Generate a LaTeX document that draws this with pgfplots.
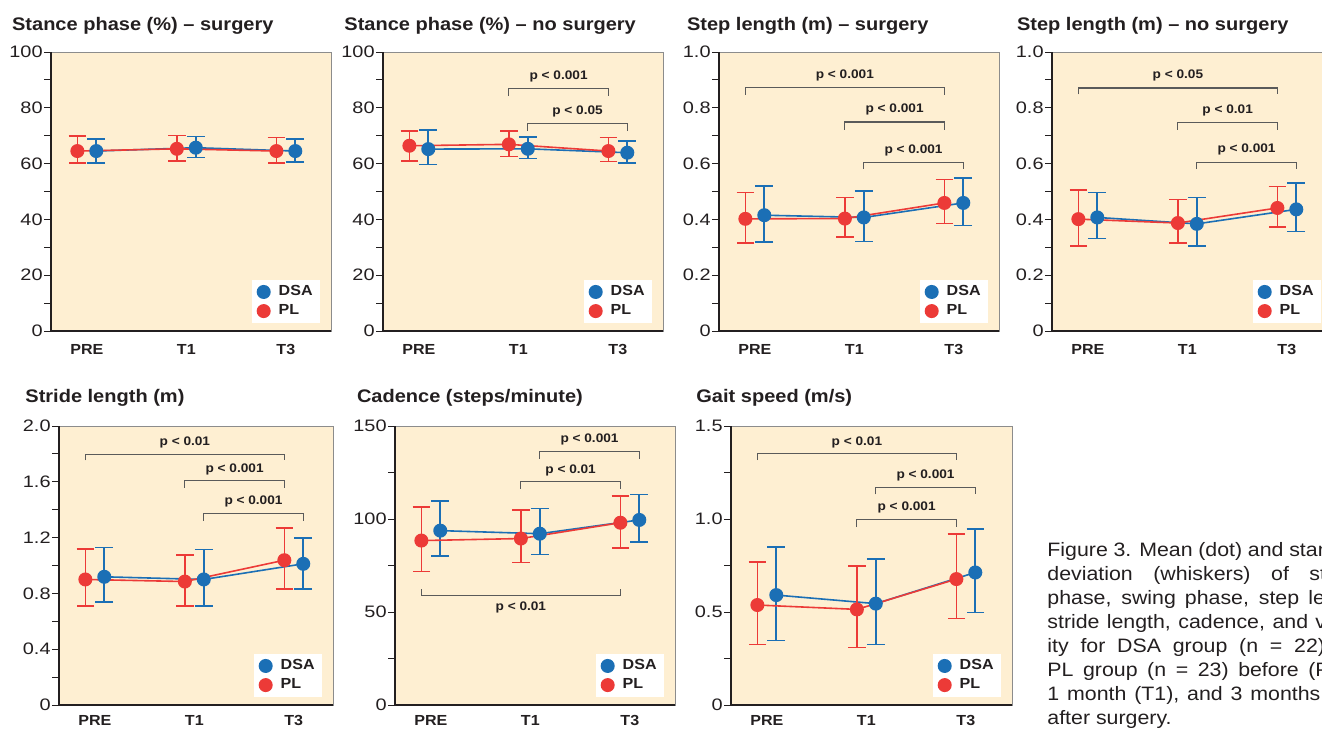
\documentclass[border=0pt]{standalone}
\usepackage{fontspec}
\setmainfont{Liberation Sans}[FakeStretch=1.1]
\newfontfamily\numfont{Liberation Sans}[FakeStretch=1.2]
\usepackage{pgfplots}
\pgfplotsset{compat=1.18}

\definecolor{bg}{HTML}{FEEFD2}
\definecolor{dsa}{HTML}{1B6FB5}
\definecolor{pl}{HTML}{EC3A37}
\definecolor{brk}{HTML}{5A5A5A}
\definecolor{txt}{HTML}{231F20}

% bracket: x1, x2, y bar, y end, x label, y label, text
\newcommand\pbr[7]{%
  \draw[brk, line width=0.55pt] (axis cs:#1,#4) -- (axis cs:#1,#3) -- (axis cs:#2,#3) -- (axis cs:#2,#4);
  \node[font=\bfseries\fontsize{6.2}{6.2}\selectfont, text=txt, inner sep=0pt] at (axis cs:#5,#6) {#7};}

\pgfplotsset{
  panel/.style={
    scale only axis, width=140pt, height=139.5pt, anchor=north west,
    xmin=-0.36, xmax=2.454, ymin=0,
    xtick={0,1,2}, xticklabels={PRE,T1,T3},
    xtick pos=bottom, ytick pos=left,
    major x tick style={draw=none},
    x tick label style={font=\bfseries\fontsize{7.3}{7.3}\selectfont, text=txt, anchor=north, inner sep=0pt, yshift=-3pt},
    y tick label style={font=\numfont\fontsize{8.3}{8.3}\selectfont, text=txt, anchor=east, inner sep=0.5pt, xshift=0pt},
    tick align=outside, major tick length=3.5pt, minor tick length=3.5pt,
    tick style={txt, line width=0.5pt},
    minor y tick num=1,
    axis line style={draw=black!45, line width=0.5pt},
    axis background/.style={fill=bg},
    clip=false,
    extra description/.code={\draw[txt, line width=0.75pt] (0,1) -- (0,0) -- (1,0);},
    legend style={at={(1,0)}, anchor=south east, xshift=-5.5pt, yshift=4pt, draw=none, fill=white,
      font=\bfseries\fontsize{7.3}{7.3}\selectfont, text=txt, row sep=1pt, inner xsep=2.5pt, inner ysep=1.5pt,
      nodes={inner sep=1pt}, /tikz/every odd column/.append style={column sep=3pt}},
    legend cell align=left,
  },
  lower/.style={x tick label style={yshift=1.5pt}},
  dsaplot/.style={dsa, line width=0.8pt, mark=*, mark size=3.1pt, mark options={draw=none, fill=dsa},
    legend image code/.code={\fill[dsa] (3.6pt,0pt) circle (3.1pt);},
    error bars/.cd, y dir=both, y explicit,
    error bar style={dsa, line width=0.8pt},
    error mark options={dsa, line width=0.8pt, mark size=4.4pt, rotate=90}},
  plplot/.style={pl, line width=0.8pt, mark=*, mark size=3.1pt, mark options={draw=none, fill=pl},
    legend image code/.code={\fill[pl] (3.6pt,0pt) circle (3.1pt);},
    error bars/.cd, y dir=both, y explicit,
    error bar style={pl, line width=0.8pt},
    error mark options={pl, line width=0.8pt, mark size=4.4pt, rotate=90}},
}

\begin{document}
\begin{tikzpicture}

% ---- Stance phase, surgery
\begin{axis}[panel, at={(25.5pt,-26pt)}, ymax=100,
  ytick={0,20,40,60,80,100}, yticklabels={0,20,40,60,80,100}]
\addplot[dsaplot] coordinates {(0.095,64.5) += (0,4.4) -= (0,4.3) (1.095,65.7) += (0,4.0) -= (0,3.5) (2.095,64.5) += (0,4.4) -= (0,4.0)};
\addplot[plplot] coordinates {(-0.095,64.5) += (0,5.4) -= (0,4.3) (0.905,65.3) += (0,4.8) -= (0,4.4) (1.905,64.5) += (0,4.9) -= (0,4.3)};
\legend{DSA,PL}
\end{axis}

% ---- Stance phase, no surgery
\begin{axis}[panel, at={(191.5pt,-26pt)}, ymax=100,
  ytick={0,20,40,60,80,100}, yticklabels={0,20,40,60,80,100}]
\addplot[dsaplot] coordinates {(0.095,65.2) += (0,6.9) -= (0,5.5) (1.095,65.3) += (0,4.3) -= (0,3.5) (2.095,63.9) += (0,4.1) -= (0,3.6)};
\addplot[plplot] coordinates {(-0.095,66.4) += (0,5.3) -= (0,5.4) (0.905,66.9) += (0,4.8) -= (0,4.3) (1.905,64.5) += (0,4.8) -= (0,3.7)};
\legend{DSA,PL}
\pbr{0.905}{1.905}{86.8}{84.2}{1.405}{91.1}{p < 0.001}
\pbr{1.095}{2.095}{74.3}{71.7}{1.595}{78.6}{p < 0.05}
\end{axis}

% ---- Step length, surgery
\begin{axis}[panel, at={(359.5pt,-26pt)}, ymax=1,
  ytick={0,0.2,0.4,0.6,0.8,1}, yticklabels={0,0.2,0.4,0.6,0.8,1.0}]
\addplot[dsaplot] coordinates {(0.095,0.415) += (0,0.104) -= (0,0.095) (1.095,0.407) += (0,0.095) -= (0,0.086) (2.095,0.459) += (0,0.090) -= (0,0.081)};
\addplot[plplot] coordinates {(-0.095,0.402) += (0,0.094) -= (0,0.087) (0.905,0.403) += (0,0.076) -= (0,0.067) (1.905,0.459) += (0,0.084) -= (0,0.074)};
\legend{DSA,PL}
\pbr{-0.095}{1.905}{0.873}{0.847}{0.905}{0.915}{p < 0.001}
\pbr{0.905}{1.905}{0.749}{0.722}{1.405}{0.794}{p < 0.001}
\pbr{1.095}{2.095}{0.604}{0.580}{1.595}{0.648}{p < 0.001}
\end{axis}

% ---- Step length, no surgery
\begin{axis}[panel, at={(526pt,-26pt)}, ymax=1,
  ytick={0,0.2,0.4,0.6,0.8,1}, yticklabels={0,0.2,0.4,0.6,0.8,1.0}]
\addplot[dsaplot] coordinates {(0.095,0.407) += (0,0.089) -= (0,0.075) (1.095,0.384) += (0,0.095) -= (0,0.080) (2.095,0.436) += (0,0.095) -= (0,0.079)};
\addplot[plplot] coordinates {(-0.095,0.401) += (0,0.104) -= (0,0.097) (0.905,0.387) += (0,0.084) -= (0,0.072) (1.905,0.441) += (0,0.077) -= (0,0.069)};
\legend{DSA,PL}
\pbr{-0.095}{1.905}{0.871}{0.848}{0.905}{0.915}{p < 0.05}
\pbr{0.905}{1.905}{0.748}{0.722}{1.405}{0.790}{p < 0.01}
\pbr{1.095}{2.095}{0.605}{0.580}{1.595}{0.649}{p < 0.001}
\end{axis}

% ---- Stride length
\begin{axis}[panel, lower, at={(29.5pt,-213pt)}, width=137pt, xmax=2.394, ymax=2,
  ytick={0,0.4,0.8,1.2,1.6,2}, yticklabels={0,0.4,0.8,1.2,1.6,2.0}]
\addplot[dsaplot] coordinates {(0.095,0.919) += (0,0.210) -= (0,0.182) (1.095,0.900) += (0,0.215) -= (0,0.191) (2.095,1.012) += (0,0.186) -= (0,0.181)};
\addplot[plplot] coordinates {(-0.095,0.900) += (0,0.217) -= (0,0.191) (0.905,0.885) += (0,0.191) -= (0,0.174) (1.905,1.038) += (0,0.229) -= (0,0.207)};
\legend{DSA,PL}
\pbr{-0.095}{1.905}{1.797}{1.754}{0.905}{1.885}{p < 0.01}
\pbr{0.905}{1.905}{1.611}{1.558}{1.405}{1.687}{p < 0.001}
\pbr{1.095}{2.095}{1.372}{1.320}{1.595}{1.456}{p < 0.001}
\end{axis}

% ---- Cadence
\begin{axis}[panel, lower, at={(197.5pt,-213pt)}, ymax=150,
  ytick={0,50,100,150}, yticklabels={0,50,100,150}]
\addplot[dsaplot] coordinates {(0.095,93.75) += (0,16.0) -= (0,13.75) (1.095,92.1) += (0,13.6) -= (0,11.2) (2.095,99.5) += (0,13.7) -= (0,11.8)};
\addplot[plplot] coordinates {(-0.095,88.4) += (0,18.2) -= (0,16.6) (0.905,89.5) += (0,15.3) -= (0,12.9) (1.905,98.0) += (0,14.3) -= (0,13.7)};
\legend{DSA,PL}
\pbr{1.095}{2.095}{136.4}{132.5}{1.595}{142.9}{p < 0.001}
\pbr{0.905}{1.905}{120.2}{116.3}{1.405}{126.3}{p < 0.01}
\pbr{-0.095}{1.905}{58.75}{62.3}{0.905}{52.5}{p < 0.01}
\end{axis}

% ---- Gait speed
\begin{axis}[panel, lower, at={(365.5pt,-213pt)}, width=140.5pt, xmax=2.464, ymax=1.5,
  ytick={0,0.5,1,1.5}, yticklabels={0,0.5,1.0,1.5}]
\addplot[dsaplot] coordinates {(0.095,0.591) += (0,0.257) -= (0,0.245) (1.095,0.545) += (0,0.241) -= (0,0.220) (2.095,0.7125) += (0,0.2335) -= (0,0.2145)};
\addplot[plplot] coordinates {(-0.095,0.5375) += (0,0.2325) -= (0,0.2125) (0.905,0.514) += (0,0.234) -= (0,0.205) (1.905,0.677) += (0,0.243) -= (0,0.211)};
\legend{DSA,PL}
\pbr{-0.095}{1.905}{1.354}{1.316}{0.905}{1.411}{p < 0.01}
\pbr{1.095}{2.095}{1.171}{1.132}{1.595}{1.236}{p < 0.001}
\pbr{0.905}{1.905}{0.995}{0.957}{1.405}{1.061}{p < 0.001}
\end{axis}

% ---- titles
\tikzset{ttl/.style={anchor=base west, inner sep=0pt, font=\bfseries\fontsize{9.1}{9.1}\selectfont, text=txt}}
\node[ttl] at (5.85pt,-15pt) {Stance phase (\%) – surgery};
\node[ttl] at (172pt,-15pt) {Stance phase (\%) – no surgery};
\node[ttl] at (343.3pt,-15pt) {Step length (m) – surgery};
\node[ttl] at (508.3pt,-15pt) {Step length (m) – no surgery};
\node[ttl] at (12.5pt,-201.3pt) {Stride length (m)};
\node[ttl] at (178.3pt,-201.3pt) {Cadence (steps/minute)};
\node[ttl] at (348pt,-201.3pt) {Gait speed (m/s)};

% ---- caption
\node[anchor=north west, inner sep=0pt, text width=162.5pt, align=justify,
  font=\fontsize{9.7}{12}\selectfont, text=txt] at (523.5pt,-271pt)
  {Figure 3. Mean (dot) and standard\linebreak
   deviation (whiskers) of stance\linebreak
   phase, swing phase, step length,\linebreak
   stride length, cadence, and veloc-\linebreak
   ity for DSA group (n = 22) and\linebreak
   PL group (n = 23) before (PRE),\linebreak
   \hbox to 136.5pt{1\hfill month\hfill (T1),\hfill and\hfill 3\hfill months}\newline
   after surgery.};

\pgfresetboundingbox
\path[use as bounding box] (0,0) rectangle (661pt,-364pt);
\end{tikzpicture}
\end{document}
